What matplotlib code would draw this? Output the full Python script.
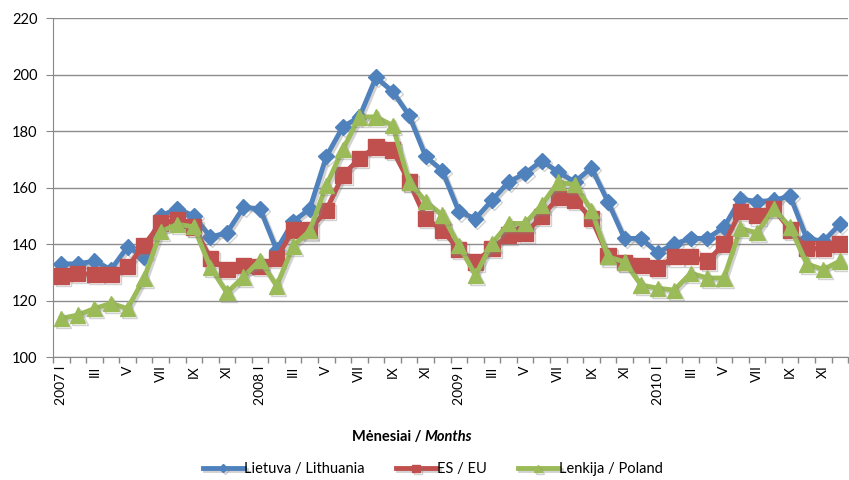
import numpy as np
import matplotlib.pyplot as plt
import matplotlib.patheffects as pe

plt.rcParams['font.family'] = ['Lato', 'DejaVu Sans']

# ----------- data (monthly index, 2007 I - 2010 XII) ---------
lithuania = [133, 133, 134, 131, 139, 135.5, 150, 152.5, 150, 142.5, 144, 153,
             152.5, 138, 148, 152.5, 171, 181.5, 185, 199, 194, 185.5, 171, 166,
             151.5, 149, 155.5, 162, 165, 169.5, 165.5, 162, 167, 155, 142, 142,
             137, 140, 142, 142, 146, 156, 155, 155.5, 157, 142, 141, 147]
eu = [128.7, 129.6, 129.3, 129.3, 132, 139.6, 147.5, 148.5, 146, 135, 131, 132.5,
      132, 135, 145, 145, 152, 164.4, 170.3, 174.4, 173.3, 162, 149.1, 145,
      138, 133.7, 138.4, 143.2, 143.8, 149.7, 156.5, 155.5, 149, 136, 133.6, 132.5,
      131.5, 135.5, 135.5, 134, 140, 151.5, 150, 152.5, 145, 138.5, 138.5, 140]
poland = [113.7, 114.9, 117.2, 119, 117.2, 127.9, 144.4, 147, 146.1, 131.8, 122.8, 128.4,
          134.3, 125.2, 139.3, 144.7, 160.8, 173.5, 185, 185, 182, 162, 155, 150.3,
          139.6, 129, 140.2, 147.3, 147.3, 153.8, 162, 161, 152, 135.5, 133.7, 125.5,
          124.4, 123.7, 129.7, 128, 128, 145.5, 144, 152.5, 146, 133, 131, 134]

years = ['2007', '2008', '2009', '2010']
roman = ['I', 'II', 'III', 'IV', 'V', 'VI', 'VII', 'VIII', 'IX', 'X', 'XI', 'XII']

x = np.arange(len(lithuania))
labels = []
for y in years:
    for m in roman:
        labels.append(y + ' ' + m if m == 'I' else m)

fig = plt.figure(figsize=(8.49, 4.8), dpi=100)
ax = fig.add_axes([0.0624, 0.256, 0.9366, 0.7065])

shadow = [pe.SimpleLineShadow(offset=(1.5, -1.5), shadow_color='#808080', alpha=0.35), pe.Normal()]
ax.plot(x, lithuania, color='#4F81BD', lw=3.5, marker='D', ms=8, mec='#4F81BD',
        label='Lietuva / Lithuania', path_effects=shadow, zorder=3)
ax.plot(x, eu, color='#C0504D', lw=3.5, marker='s', ms=11, mec='#C0504D',
        label='ES / EU', path_effects=shadow, zorder=4)
ax.plot(x, poland, color='#9BBB59', lw=3.5, marker='^', ms=11, mec='#9BBB59',
        label='Lenkija / Poland', path_effects=shadow, zorder=5)

ax.set_ylim(100, 220)
ax.set_yticks(np.arange(100, 221, 20))
ax.set_xlim(-0.5, len(x) - 0.5)
ax.set_xticks(x[::2])
ax.set_xticklabels(labels[::2], rotation=90, fontsize=10)
ax.set_xticks(np.arange(-0.5, len(x), 1), minor=True)
ax.tick_params(axis='x', which='major', length=0, pad=6)
ax.tick_params(axis='x', which='minor', length=4, color='#888888', width=1)
ax.tick_params(axis='y', length=5, color='#888888', labelsize=10.5, pad=6)

ax.grid(axis='y', color='#8c8c8c', lw=1)
ax.set_axisbelow(True)
for s in ['top', 'right']:
    ax.spines[s].set_visible(False)
for s in ['left', 'bottom']:
    ax.spines[s].set_color('#888888')

fig.text(0.5, 0.09, 'Mėnesiai / ', ha='right', va='center', fontsize=10.5, fontweight='bold')
fig.text(0.5, 0.09, 'Months', ha='left', va='center', fontsize=10.5, fontweight='bold', style='italic')

fig.legend(loc='center', bbox_to_anchor=(0.51, 0.022), ncol=3, frameon=False,
           fontsize=10.5, handlelength=2.8, columnspacing=2.1, handletextpad=0.05,
           markerscale=0.5)

fig.savefig('out.png', dpi=100)
